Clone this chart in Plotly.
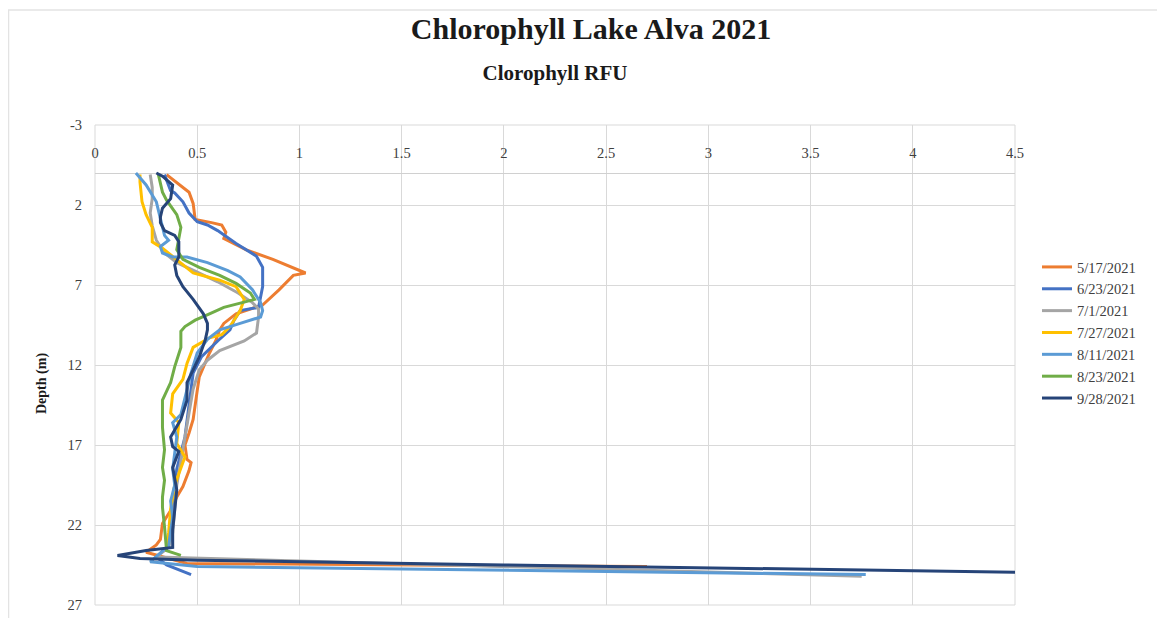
import plotly.graph_objects as go

# ---------------- data (depth in m, chlorophyll RFU) ----------------
dates = ["5/17/2021", "6/23/2021", "7/1/2021", "7/27/2021", "8/11/2021", "8/23/2021", "9/28/2021"]
colors = ["#ED7D31", "#4472C4", "#A5A5A5", "#FFC000", "#5B9BD5", "#70AD47", "#264478"]

depth_0517 = [0.1, 1.2, 1.9, 2.9, 3.1, 3.25, 3.7, 4.1, 4.8, 5.4, 6.25, 6.4, 7.3, 8.25, 8.8, 9.4, 9.8, 10.5,
              11.25, 12.1, 12.75, 13.6, 14.5, 15.4, 16.25, 17.0, 17.9, 18.1, 18.6, 19.6, 20.25, 21.1, 21.9,
              22.9, 23.25, 23.7, 24.4, 24.6]
rfu_0517 = [0.35, 0.46, 0.48, 0.49, 0.57, 0.62, 0.64, 0.63, 0.74, 0.87, 1.03, 0.97, 0.90, 0.82, 0.69, 0.63, 0.61, 0.59,
            0.56, 0.53, 0.51, 0.50, 0.49, 0.48, 0.46, 0.44, 0.45, 0.47, 0.46, 0.43, 0.40, 0.37, 0.33,
            0.32, 0.30, 0.25, 0.45, 2.7]

depth_0623 = [0.1, 1.1, 1.25, 1.8, 2.5, 3.05, 3.25, 3.6, 4.4, 5.2, 5.9, 7.1, 7.75, 8.4, 8.6, 9.2, 9.8, 10.5, 11.5,
              12.5, 13.5, 14.5, 15.5, 16.5, 17.5, 18.5, 19.5, 20.5, 21.5, 22.5, 23.3, 24.0, 24.5, 25.1]
rfu_0623 = [0.34, 0.37, 0.39, 0.43, 0.46, 0.50, 0.55, 0.60, 0.69, 0.79, 0.82, 0.82, 0.81, 0.80, 0.71, 0.68, 0.66, 0.60, 0.52,
            0.48, 0.47, 0.46, 0.45, 0.44, 0.42, 0.40, 0.39, 0.38, 0.38, 0.37, 0.36, 0.30, 0.35, 0.47]

depth_0701 = [0.1, 0.9, 1.6, 2.5, 3.3, 4.2, 5.0, 5.6, 6.2, 6.8, 7.5, 8.1, 8.5, 9.0, 10.0, 10.5, 11.1, 11.7, 12.3,
              13.5, 15.0, 16.5, 18.0, 19.5, 21.0, 22.5, 23.4, 24.0, 25.2]
rfu_0701 = [0.27, 0.28, 0.28, 0.27, 0.28, 0.30, 0.34, 0.40, 0.50, 0.60, 0.70, 0.77, 0.80, 0.80, 0.79, 0.73, 0.61, 0.55, 0.51,
            0.48, 0.46, 0.44, 0.42, 0.40, 0.39, 0.38, 0.36, 0.30, 3.75]

depth_0727 = [0.1, 0.55, 1.8, 2.6, 3.4, 4.3, 4.7, 5.1, 5.4, 6.25, 6.7, 7.1, 7.9, 8.6, 9.2, 9.6, 10.1, 10.3, 10.9,
              11.9, 12.9, 13.8, 15.0, 15.6, 16.9, 17.75, 18.1, 19.5, 21.0, 22.5, 23.4]
rfu_0727 = [0.22, 0.22, 0.23, 0.25, 0.28, 0.28, 0.33, 0.37, 0.40, 0.48, 0.61, 0.69, 0.73, 0.71, 0.68, 0.66, 0.62, 0.56, 0.48,
            0.45, 0.43, 0.38, 0.37, 0.41, 0.40, 0.44, 0.43, 0.39, 0.37, 0.36, 0.35]

depth_0811 = [0.0, 0.75, 1.8, 2.8, 3.9, 4.2, 4.6, 5.0, 5.25, 5.25, 5.6, 6.1, 6.5, 7.3, 8.1, 8.6, 9.0, 9.4, 9.8, 10.4,
              11.25, 12.5, 13.5, 14.5, 15.1, 15.6, 16.5, 17.5, 18.5, 19.5, 20.5, 21.5, 22.5, 23.3, 24.3, 24.6, 25.1]
rfu_0811 = [0.20, 0.25, 0.30, 0.32, 0.34, 0.36, 0.32, 0.33, 0.38, 0.45, 0.55, 0.65, 0.71, 0.77, 0.81, 0.82, 0.81, 0.71, 0.61, 0.55,
            0.50, 0.47, 0.45, 0.43, 0.42, 0.38, 0.40, 0.39, 0.38, 0.39, 0.37, 0.38, 0.37, 0.36, 0.27, 0.50, 3.77]

depth_0823 = [0.1, 1.2, 1.7, 2.6, 3.4, 4.2, 4.8, 5.4, 5.9, 6.4, 6.9, 7.5, 7.9, 8.1, 8.4, 8.8, 9.2, 9.6, 9.9, 10.9,
              12.1, 13.1, 14.2, 15.9, 17.3, 18.4, 19.2, 20.25, 20.9, 22.1, 23.6, 23.9]
rfu_0823 = [0.31, 0.33, 0.35, 0.40, 0.42, 0.41, 0.40, 0.43, 0.51, 0.61, 0.69, 0.76, 0.78, 0.72, 0.63, 0.56, 0.49, 0.44, 0.42, 0.42,
            0.39, 0.37, 0.33, 0.33, 0.34, 0.33, 0.34, 0.33, 0.33, 0.34, 0.35, 0.42]

depth_0928 = [0.0, 0.2, 0.75, 1.6, 2.2, 2.75, 3.1, 3.6, 3.9, 4.3, 5.25, 5.75, 6.4, 7.1, 7.9, 8.8, 9.4, 9.8, 10.4,
              11.5, 12.3, 13.1, 14.2, 15.4, 16.5, 17.1, 17.4, 18.4, 19.8, 21.0, 22.3, 23.4, 23.6, 23.9, 24.1,
              24.2, 24.5, 24.95]
rfu_0928 = [0.30, 0.33, 0.38, 0.37, 0.33, 0.32, 0.32, 0.34, 0.39, 0.41, 0.41, 0.39, 0.40, 0.43, 0.48, 0.53, 0.55, 0.55, 0.54,
            0.51, 0.48, 0.45, 0.45, 0.42, 0.37, 0.38, 0.41, 0.38, 0.40, 0.39, 0.38, 0.38, 0.25, 0.11, 0.22,
            0.50, 2.0, 4.52]

depths = [depth_0517, depth_0623, depth_0701, depth_0727, depth_0811, depth_0823, depth_0928]
rfus = [rfu_0517, rfu_0623, rfu_0701, rfu_0727, rfu_0811, rfu_0823, rfu_0928]

x_ticks = [0, 0.5, 1, 1.5, 2, 2.5, 3, 3.5, 4, 4.5]
y_ticks = [-3, 2, 7, 12, 17, 22, 27]
y_tick_labels = ["-3", "2", "7", "12", "17", "22", "27"]

title_text = "Chlorophyll Lake Alva 2021"
x_title = "Clorophyll RFU"
y_title = "Depth (m)"

# ---------------- figure ----------------
SERIF = "Liberation Serif, Times New Roman, serif"
GRID = "#D9D9D9"
L, T, PW, PH = 87, 117, 920, 480   # plot area in figure pixels (page has an 8px body margin)
W, H = 1165, 618


def px_x(x):
    return (x - L) / PW


def px_y(y):
    return (T + PH - y) / PH


fig = go.Figure()
for name, col, d, v in zip(dates, colors, depths, rfus):
    fig.add_trace(go.Scatter(x=v, y=d, mode="lines", name=name,
                             line=dict(color=col, width=3)))

fig.update_layout(
    width=W, height=H,
    margin=dict(l=L, r=W - L - PW, t=T, b=H - T - PH),
    paper_bgcolor="white", plot_bgcolor="white",
    showlegend=True,
    title=dict(text="<b>" + title_text + "</b>", x=(591 - 8) / W, xanchor="center",
               y=1 - 20 / H, yanchor="middle",
               font=dict(family=SERIF, size=30, color="#1a1a1a")),
    legend=dict(x=px_x(1029), xanchor="left", y=px_y(243), yanchor="top",
                font=dict(family=SERIF, size=14.5, color="#404040"),
                itemwidth=30, bgcolor="rgba(0,0,0,0)", tracegroupgap=0),
    xaxis=dict(range=[0, 4.5], tickmode="array", tickvals=x_ticks,
               side="top", anchor="free", position=0.9,
               showgrid=True, gridcolor=GRID, gridwidth=1,
               zeroline=False, showline=False, ticks="", ticklabelstandoff=12,
               tickfont=dict(family=SERIF, size=14.5, color="#404040"),
               title=dict(text="<b>" + x_title + "</b>", standoff=57,
                          font=dict(family=SERIF, size=21, color="#1a1a1a"))),
    yaxis=dict(range=[27, -3], tickmode="array", tickvals=y_ticks, ticktext=y_tick_labels,
               showgrid=True, gridcolor=GRID, gridwidth=1,
               zeroline=True, zerolinecolor="#D0D0D0", zerolinewidth=1.2,
               showline=False, ticks="", ticklabelstandoff=12,
               tickfont=dict(family=SERIF, size=14.5, color="#404040")),
    annotations=[
        dict(text="<b>" + y_title + "</b>", xref="paper", yref="paper",
             x=px_x(34), y=px_y(376), textangle=-90, showarrow=False,
             xanchor="center", yanchor="middle",
             font=dict(family=SERIF, size=14, color="#1a1a1a")),
    ],
    shapes=[
        dict(type="rect", xref="paper", yref="paper", x0=0, x1=1, y0=0, y1=1,
             line=dict(color=GRID, width=1), layer="below"),
        dict(type="line", xref="paper", yref="paper", x0=px_x(0), x1=px_x(W),
             y0=px_y(2), y1=px_y(2), line=dict(color="#E3E3E3", width=1.5)),
        dict(type="line", xref="paper", yref="paper", x0=px_x(0.5), x1=px_x(0.5),
             y0=px_y(2), y1=px_y(H), line=dict(color="#E3E3E3", width=1.5)),
    ],
)

fig.write_html("out.html")
